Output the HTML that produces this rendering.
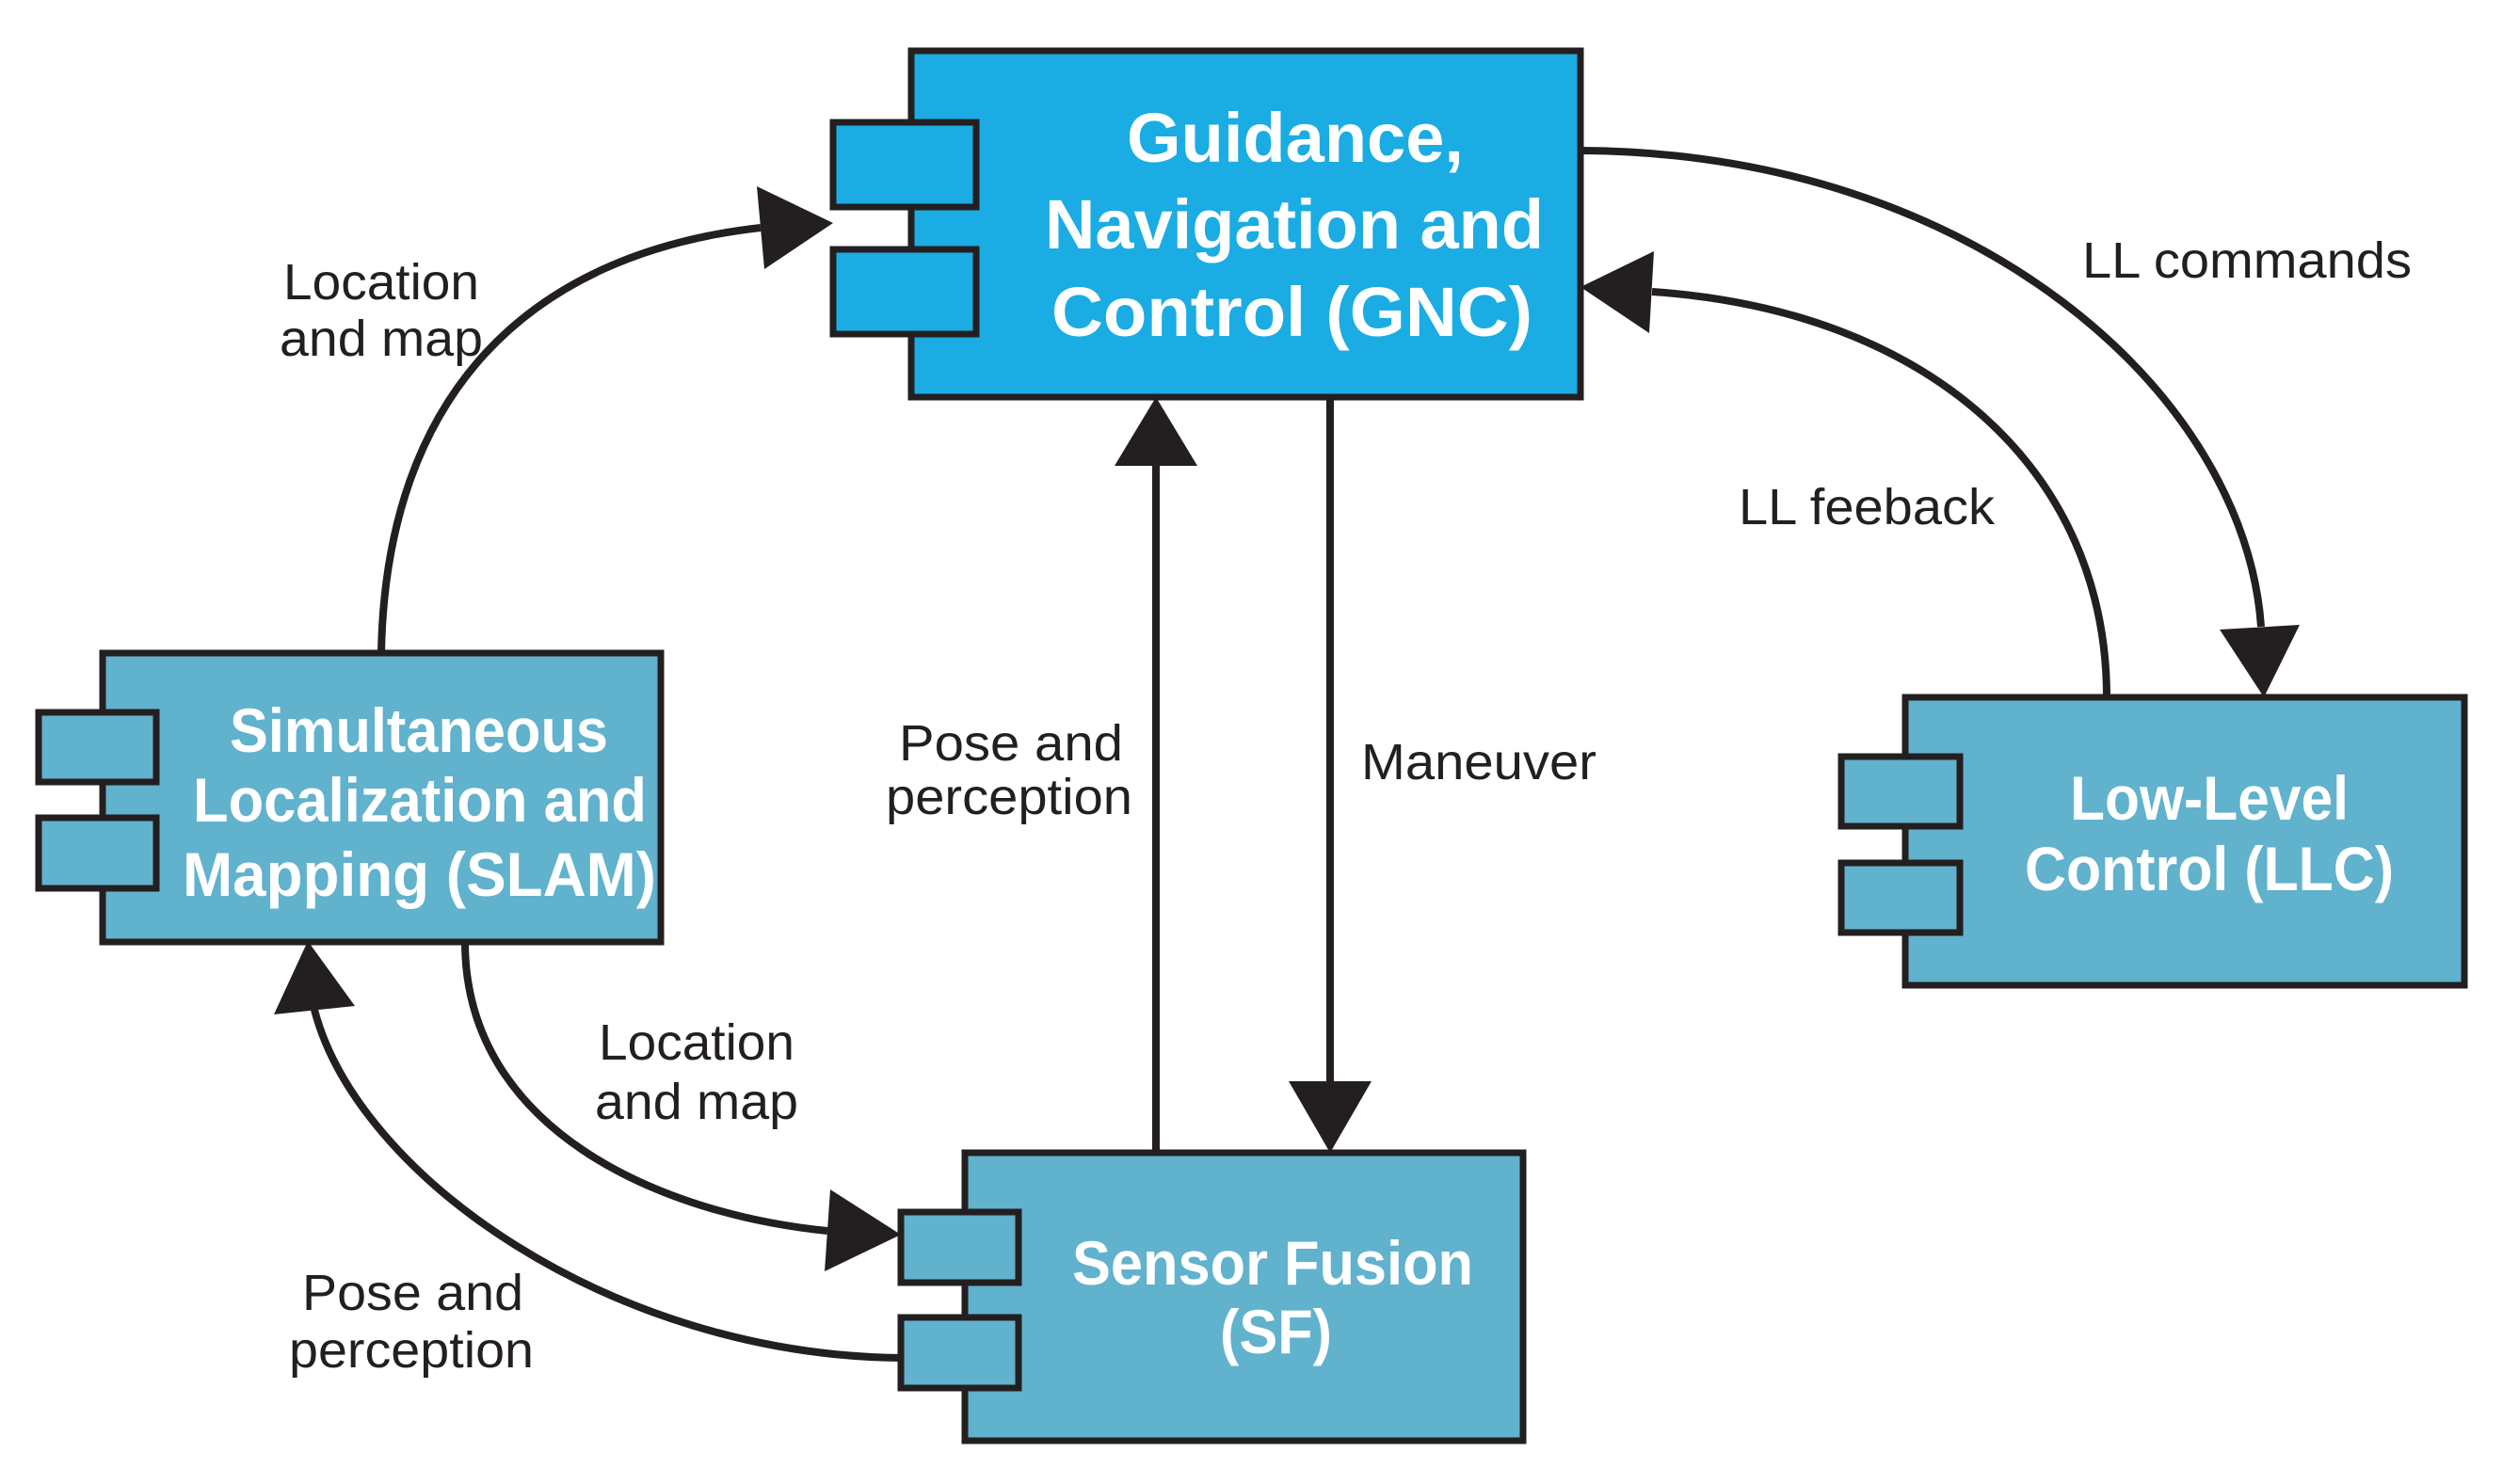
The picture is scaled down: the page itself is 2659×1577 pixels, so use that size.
<!DOCTYPE html>
<html><head><style>html,body{margin:0;padding:0;background:#fff}svg{display:block}</style></head>
<body>
<svg width="2659" height="1577" viewBox="0 0 2659 1577" xmlns="http://www.w3.org/2000/svg">
<g stroke="#231f20" stroke-width="7">
<rect x="968" y="54" width="711" height="368" fill="#1aace3"/>
<rect x="885" y="130" width="152" height="90" fill="#1aace3"/>
<rect x="885" y="265" width="152" height="90" fill="#1aace3"/>
<rect x="109" y="694" width="593" height="307" fill="#60b2cd"/>
<rect x="41" y="757" width="125" height="74" fill="#60b2cd"/>
<rect x="41" y="869" width="125" height="75" fill="#60b2cd"/>
<rect x="1025" y="1225" width="593" height="306" fill="#60b2cd"/>
<rect x="957" y="1288" width="125" height="75" fill="#60b2cd"/>
<rect x="957" y="1400" width="125" height="75" fill="#60b2cd"/>
<rect x="2024" y="741" width="594" height="306" fill="#60b2cd"/>
<rect x="1956" y="804" width="126" height="74" fill="#60b2cd"/>
<rect x="1956" y="917" width="126" height="74" fill="#60b2cd"/>
</g>
<g stroke="#231f20" stroke-width="8" fill="none">
<path d="M405,694 C410,420 560,270 808,242"/>
<path d="M494,1001 C494,1200 700,1290 879,1308"/>
<path d="M957,1443 C650,1440 380,1250 334,1073"/>
<path d="M1679,160 C2100,162 2385,420 2402,666"/>
<path d="M2238,741 C2238,500 2050,330 1755,310"/>
<path d="M1228,1225 L1228,490"/>
<path d="M1413,422 L1413,1155"/>
</g>
<g fill="#231f20">
<polygon points="804,198 812,286 885,237"/>
<polygon points="882,1264 876,1351 957,1312"/>
<polygon points="291,1078 377,1069 327,1000"/>
<polygon points="2358,669 2443,664 2405,741"/>
<polygon points="1757,267 1752,354 1679,305"/>
<polygon points="1184,495 1272,495 1228,422"/>
<polygon points="1369,1149 1457,1149 1413,1225"/>
</g>
<g font-family="Liberation Sans, sans-serif" font-weight="bold" fill="#fff" font-size="74">
<text x="1197" y="172" textLength="358" lengthAdjust="spacingAndGlyphs">Guidance,</text>
<text x="1110" y="264" textLength="530" lengthAdjust="spacingAndGlyphs">Navigation and</text>
<text x="1117" y="357" textLength="511" lengthAdjust="spacingAndGlyphs">Control (GNC)</text>
<g font-size="66">
<text x="244" y="799" textLength="402" lengthAdjust="spacingAndGlyphs">Simultaneous</text>
<text x="205" y="873" textLength="482" lengthAdjust="spacingAndGlyphs">Localization and</text>
<text x="194" y="952" textLength="503" lengthAdjust="spacingAndGlyphs">Mapping (SLAM)</text>
<text x="1139" y="1365" textLength="426" lengthAdjust="spacingAndGlyphs">Sensor Fusion</text>
<text x="1296" y="1438" textLength="119" lengthAdjust="spacingAndGlyphs">(SF)</text>
<text x="2199" y="871" textLength="296" lengthAdjust="spacingAndGlyphs">Low-Level</text>
<text x="2151" y="946" textLength="392" lengthAdjust="spacingAndGlyphs">Control (LLC)</text>
</g>
</g>
<g font-family="Liberation Sans, sans-serif" fill="#231f20" font-size="54">
<text x="301" y="318" textLength="208" lengthAdjust="spacingAndGlyphs">Location</text>
<text x="297" y="378" textLength="216" lengthAdjust="spacingAndGlyphs">and map</text>
<text x="955" y="808" textLength="238" lengthAdjust="spacingAndGlyphs">Pose and</text>
<text x="941" y="865" textLength="262" lengthAdjust="spacingAndGlyphs">perception</text>
<text x="1446" y="828" textLength="250" lengthAdjust="spacingAndGlyphs">Maneuver</text>
<text x="636" y="1126" textLength="208" lengthAdjust="spacingAndGlyphs">Location</text>
<text x="632" y="1189" textLength="216" lengthAdjust="spacingAndGlyphs">and map</text>
<text x="321" y="1392" textLength="235" lengthAdjust="spacingAndGlyphs">Pose and</text>
<text x="307" y="1453" textLength="260" lengthAdjust="spacingAndGlyphs">perception</text>
<text x="2212" y="295" textLength="350" lengthAdjust="spacingAndGlyphs">LL commands</text>
<text x="1847" y="557" textLength="272" lengthAdjust="spacingAndGlyphs">LL feeback</text>
</g>
</svg>
</body></html>
